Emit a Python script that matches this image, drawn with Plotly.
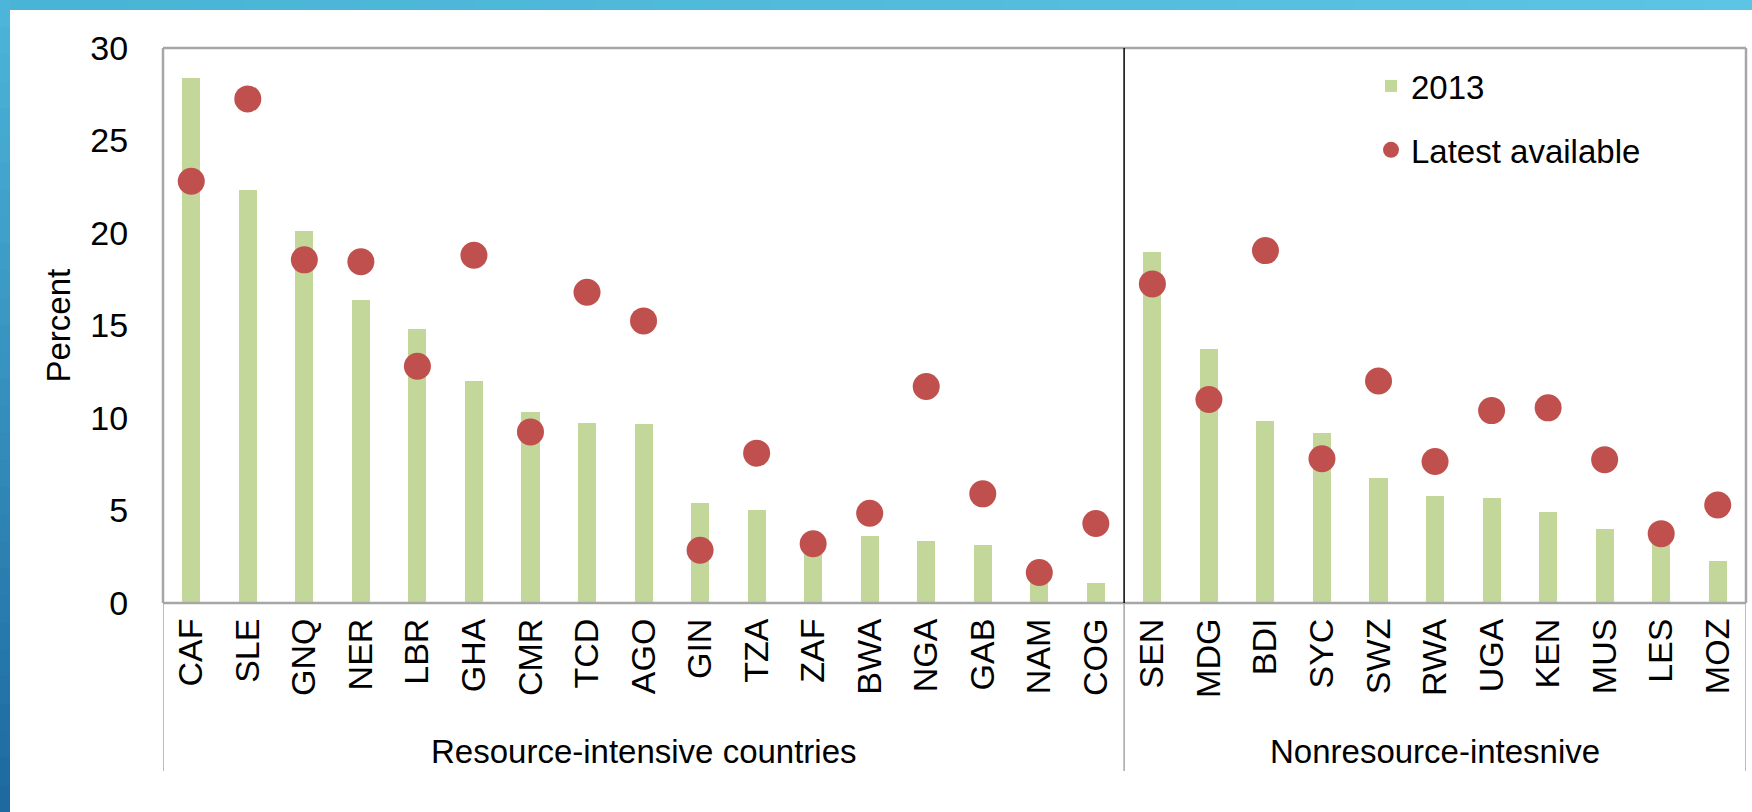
import plotly.graph_objects as go

# Daten
countries = ["CAF", "SLE", "GNQ", "NER", "LBR", "GHA", "CMR", "TCD", "AGO", "GIN", "TZA", "ZAF",
             "BWA", "NGA", "GAB", "NAM", "COG",
             "SEN", "MDG", "BDI", "SYC", "SWZ", "RWA", "UGA", "KEN", "MUS", "LES", "MOZ"]
val_2013 = [28.4, 22.3, 20.1, 16.4, 14.8, 12.0, 10.3, 9.75, 9.65, 5.4, 5.05, 3.0,
            3.6, 3.35, 3.15, 1.3, 1.1,
            19.0, 13.75, 9.85, 9.2, 6.75, 5.8, 5.7, 4.9, 4.0, 3.4, 2.25]
val_latest = [22.8, 27.25, 18.55, 18.45, 12.8, 18.8, 9.25, 16.8, 15.25, 2.85, 8.1, 3.2,
              4.85, 11.7, 5.9, 1.65, 4.3,
              17.25, 11.0, 19.05, 7.8, 12.0, 7.65, 10.4, 10.55, 7.75, 3.75, 5.3]
groups = ["Resource-intensive countries", "Nonresource-intesnive"]
group_size = [17, 11]

W, H = 1752, 812
L, R, T, B = 163, 6, 48, 209
PW, PH = W - L - R, H - T - B
FONT = "Liberation Sans Narrow, Arial Narrow, Liberation Sans, Arial, sans-serif"
GRAY = "#a6a6a6"
BAND = 10


def px(xp):
    return (xp - L) / PW


def py(yp):
    return (H - B - yp) / PH


x = list(range(len(countries)))
fig = go.Figure()
fig.add_trace(go.Bar(x=x, y=val_2013, name="2013", width=0.32,
                     marker=dict(color="#c4d79b", line=dict(width=0)), legendgroup="a"))
fig.add_trace(go.Scatter(x=x, y=val_latest, name="Latest available", mode="markers",
                         marker=dict(color="#c0504d", size=27), legendgroup="b"))

shapes = []
# blauer Rahmen oben/links (Verlauf in Streifen, leicht überlappend)
n = 30
for i in range(n):
    f = i / (n - 1)
    c_left = "rgb(%d,%d,%d)" % (76 - 46 * f, 181 - 75 * f, 217 - 57 * f)
    shapes.append(dict(type="rect", xref="paper", yref="paper", x0=px(0), x1=px(BAND),
                       y0=py(H * (i + 1) / n + 2), y1=py(H * i / n), fillcolor=c_left,
                       line=dict(width=0), layer="above"))
    c_top = "rgb(%d,%d,%d)" % (74 + 18 * f, 180 + 16 * f, 214 + 14 * f)
    shapes.append(dict(type="rect", xref="paper", yref="paper", x0=px(W * i / n + BAND),
                       x1=px(W * (i + 1) / n + BAND + 2), y0=py(BAND), y1=py(0), fillcolor=c_top,
                       line=dict(width=0), layer="above"))
# Rahmen der Zeichenfläche
for x0, y0, x1, y1 in [(0, 1, 1, 1), (0, 0, 1, 0), (0, 0, 0, 1), (1, 0, 1, 1)]:
    shapes.append(dict(type="line", xref="paper", yref="paper", x0=x0, x1=x1, y0=y0, y1=y1,
                       line=dict(color=GRAY, width=2.5)))
# Trennlinie zwischen den Gruppen
split = group_size[0] - 0.5
shapes.append(dict(type="line", xref="x", yref="paper", x0=split, x1=split, y0=0, y1=1,
                   line=dict(color="black", width=1.5)))
for xv in (-0.5, split, len(countries) - 0.5):
    shapes.append(dict(type="line", xref="x", yref="paper", x0=xv, x1=xv, y0=py(771), y1=0,
                       line=dict(color=GRAY, width=1.5)))

annotations = [dict(text="Percent", xref="paper", yref="paper", x=px(58), y=0.5, textangle=-90,
                    xanchor="center", yanchor="middle", showarrow=False,
                    font=dict(size=33, family=FONT, color="black"))]
start = 0
for g, s in zip(groups, group_size):
    annotations.append(dict(text=g, xref="x", yref="paper", x=start + (s - 1) / 2, y=py(751),
                            xanchor="center", yanchor="middle", showarrow=False,
                            font=dict(size=33, family=FONT, color="black")))
    start += s

fig.update_layout(
    width=W, height=H, margin=dict(l=L, r=R, t=T, b=B),
    paper_bgcolor="white", plot_bgcolor="white",
    font=dict(family=FONT, color="black"),
    shapes=shapes, annotations=annotations,
    showlegend=True,
    legend=dict(x=px(1371), y=py(58), xanchor="left", yanchor="top", bgcolor="rgba(0,0,0,0)",
                font=dict(size=33, family=FONT), tracegroupgap=18, itemwidth=30),
    bargap=0,
)
fig.update_xaxes(range=[-0.5, len(countries) - 0.5], tickmode="array", tickvals=x, ticktext=countries,
                 tickangle=-90, tickfont=dict(size=34, family=FONT), showgrid=False,
                 showline=False, ticks="outside", ticklen=1, tickcolor="rgba(0,0,0,0)", zeroline=False)
fig.update_yaxes(range=[0, 30], dtick=5, tickfont=dict(size=34, family=FONT), showgrid=False,
                 showline=False, ticks="outside", ticklen=27, tickcolor="rgba(0,0,0,0)", zeroline=False)

fig.write_html("out.html", config={"displayModeBar": False},
               post_script="document.body.style.margin='0px';")
